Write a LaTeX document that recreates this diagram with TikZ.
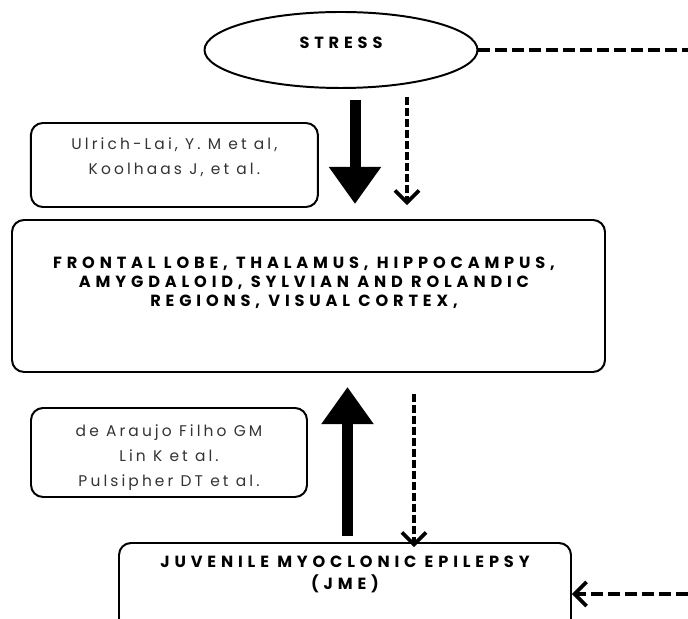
\documentclass[tikz,border=0pt]{standalone}
\usepackage{fontspec}
\setmainfont{Poppins}
\newfontfamily\widefont[LetterSpace=30]{Poppins}
\newfontfamily\softfont[LetterSpace=20]{Poppins}
\usepackage{xcolor}
\usepackage{tikz}
\usetikzlibrary{arrows.meta,shapes,shapes.geometric}
\usetikzlibrary{positioning}

\definecolor{refgray}{HTML}{333333}

\begin{document}
\begin{tikzpicture}[
  refbox/.style={draw, line width=1.4pt, rounded corners=0.3cm},
  headtext/.style={align=center, font=\widefont\bfseries\fontsize{11.5}{13.5}\selectfont},
  reftext/.style={align=center, text=refgray, font=\softfont\fontsize{11}{18}\selectfont},
  bigarrow/.style={line width=0.275cm, -{Triangle[width=1.25cm,length=0.93cm]}},
  dasharrow/.style={line width=2.6pt, dash pattern=on 0.2cm off 0.075cm, -{Straight Barb[width=0.6cm,length=0.3cm]}},
  sideline/.style={line width=2.6pt, dash pattern=on 0.3cm off 0.125cm}
]
\useasboundingbox (0,0) rectangle (17.2,15.475);

\node[draw, ellipse, line width=1.4pt, minimum width=6.825cm, minimum height=1.9cm] (stress) at (8.525, 14.225) {};
\node[headtext] (stresstxt) at (8.525, 14.4) {STRESS};
\coordinate (sideout) at (17.2, 14.225);
\draw[sideline] (stress.east) -- (sideout);

\node[refbox, minimum width=7.175cm, minimum height=2.1cm] (ulrich) at (4.36, 11.35) {};
\node[reftext] (ulrichtxt) at (4.36, 11.55) {Ulrich-Lai, Y. M et al,\\Koolhaas J, et al.};

\node[refbox, minimum width=14.825cm, minimum height=3.8cm] (brain) at (7.7125, 8.075) {};
\node[headtext] (braintxt) at (7.6, 8.4) {FRONTAL LOBE, THALAMUS, HIPPOCAMPUS,\\AMYGDALOID, SYLVIAN AND ROLANDIC\\REGIONS, VISUAL CORTEX,};

\node[refbox, minimum width=6.9cm, minimum height=2.225cm] (araujo) at (4.225, 4.1625) {};
\node[reftext, font=\softfont\fontsize{11}{17.8}\selectfont] (araujotxt) at (4.225, 4.025) {de Araujo Filho GM\\Lin K et al.\\Pulsipher DT et al.};

\node[refbox, minimum width=11.3cm, minimum height=2.2cm] (jme) at (8.625, 0.8) {};
\node[headtext, font=\widefont\bfseries\fontsize{11.5}{15.6}\selectfont] (jmetxt) at (8.625, 1.125) {JUVENILE MYOCLONIC EPILEPSY\\(JME)};
\coordinate (sidein) at (17.2, 0.625);

% stress -> brain
\draw[bigarrow] ([xshift=0.35cm, yshift=-0.275cm]stress.south) -- ([xshift=0.35cm, yshift=0.375cm]stress.south |- brain.north);
\draw[dasharrow] ([xshift=1.65cm, yshift=-0.2cm]stress.south) -- ([xshift=1.65cm, yshift=0.35cm]stress.south |- brain.north);

% jme <-> brain
\draw[bigarrow] ([xshift=0.0625cm, yshift=0.15cm]jme.north) -- ([xshift=0.0625cm, yshift=-0.35cm]jme.north |- brain.south);
\draw[dasharrow] ([xshift=1.725cm, yshift=-0.525cm]jme.north |- brain.south) -- ([xshift=1.725cm, yshift=-0.125cm]jme.north);

\draw[dasharrow, dash pattern=on 0.3cm off 0.125cm] (sidein) -- (sidein -| jme.east);

\end{tikzpicture}
\end{document}
